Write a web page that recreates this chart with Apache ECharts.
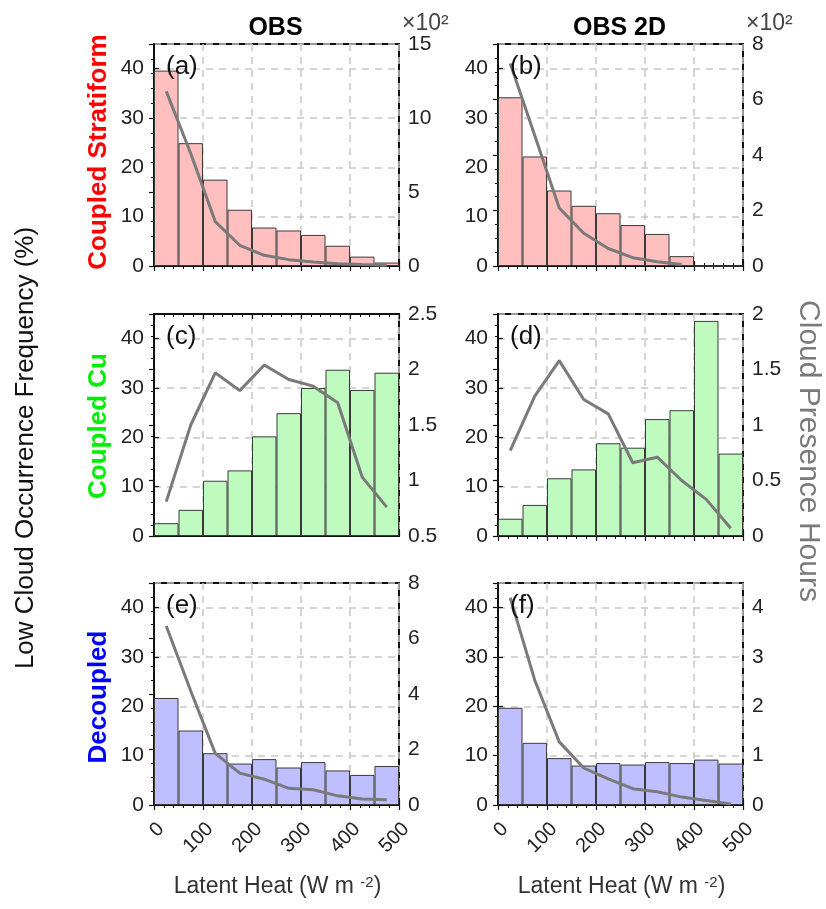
<!DOCTYPE html>
<html>
<head>
<meta charset="utf-8">
<script src="https://cdn.jsdelivr.net/npm/echarts@6/dist/echarts.min.js"></script>
<style>
  html, body { margin: 0; padding: 0; background: #fff; }
  #chart { width: 826px; height: 909px; }
</style>
</head>
<body>
<div id="chart"></div>
<script>
// latent heat bin centres (W m-2)
var binCenters = [25, 75, 125, 175, 225, 275, 325, 375, 425, 475]

// low cloud occurrence frequency (%)
var freqA = [39.6, 24.9, 17.5, 11.4, 7.8, 7.2, 6.3, 4.1, 1.9, 0.7]
var freqB = [34.2, 22.2, 15.3, 12.2, 10.7, 8.3, 6.5, 2.0, 0, 0]
var freqC = [2.6, 5.3, 11.2, 13.3, 20.2, 24.9, 30.0, 33.7, 29.6, 33.1]
var freqD = [3.5, 6.3, 11.7, 13.5, 18.8, 17.9, 23.7, 25.5, 43.6, 16.7]
var freqE = [21.7, 15.1, 10.5, 8.4, 9.3, 7.6, 8.7, 7.0, 6.1, 7.9]
var freqF = [19.7, 12.6, 9.5, 8.0, 8.5, 8.2, 8.7, 8.5, 9.2, 8.4]

// cloud presence hours (a, b in units of 10^2)
var hoursA = [11.8, 7.6, 3.0, 1.4, 0.72, 0.43, 0.27, 0.16, 0.1, 0.05]
var hoursB = [7.3, 4.7, 2.09, 1.18, 0.63, 0.3, 0.15, 0.05, null, null]
var hoursC = [0.81, 1.5, 1.97, 1.81, 2.04, 1.91, 1.85, 1.70, 1.03, 0.76]
var hoursD = [0.77, 1.26, 1.58, 1.23, 1.1, 0.66, 0.71, 0.5, 0.33, 0.07]
var hoursE = [6.45, 4.11, 1.86, 1.15, 0.93, 0.6, 0.55, 0.33, 0.22, 0.19]
var hoursF = [4.2, 2.53, 1.28, 0.75, 0.53, 0.33, 0.27, 0.16, 0.09, 0.02]

// right axis ranges [min, max, interval, minor split]
var rightA = [0, 15, 5, 5]
var rightB = [0, 8, 2, 4]
var rightC = [0.5, 2.5, 0.5, 5]
var rightD = [0, 2, 0.5, 5]
var rightE = [0, 8, 2, 4]
var rightF = [0, 4.5, 1, 5]

var panelLabels = ['(a)', '(b)', '(c)', '(d)', '(e)', '(f)']
var colTitles = ['OBS', 'OBS 2D']
var rowTitles = ['Coupled Stratiform', 'Coupled Cu', 'Decoupled']
var rowColors = ['#ff0000', '#00ee00', '#0000ff']
var barColors = ['#ffbfbf', '#bffabf', '#bfbfff']

var FONT = 'Liberation Sans, Arial, sans-serif'

var panels = [
  { freq: freqA, hours: hoursA, right: rightA },
  { freq: freqB, hours: hoursB, right: rightB },
  { freq: freqC, hours: hoursC, right: rightC },
  { freq: freqD, hours: hoursD, right: rightD },
  { freq: freqE, hours: hoursE, right: rightE },
  { freq: freqF, hours: hoursF, right: rightF }
]

var colLeft = [154, 498]
var rowTop = [44, 314, 583]
var rowCenter = [152, 426, 697]
var plotW = 245
var plotH = 222

var grids = [], xAxes = [], yAxes = [], series = [], graphics = []

function pair(arr) {
  return arr.map(function(v, i) { return [binCenters[i], v] })
}

var frame = { show: true, lineStyle: { color: '#111', width: 2 } }
var ticks = { inside: true, length: 5, lineStyle: { color: '#111', width: 1.2 } }
var dashes = { show: true, lineStyle: { color: '#c8c8c8', type: [7, 6], width: 1.5 } }

panels.forEach(function(p, k) {
  var row = Math.floor(k / 2), col = k % 2
  grids.push({
    left: colLeft[col], top: rowTop[row], width: plotW, height: plotH,
    show: true, borderColor: '#111', borderWidth: 2, backgroundColor: '#fff'
  })
  // bottom x axis
  xAxes.push({
    type: 'value', gridIndex: k, position: 'bottom', min: 0, max: 500, interval: 100,
    axisLine: frame, axisTick: ticks,
    minorTick: { show: true, splitNumber: 5, length: 3, lineStyle: { color: '#111' } },
    splitLine: dashes,
    axisLabel: {
      show: row === 2, rotate: 45, align: 'right', verticalAlign: 'top',
      fontSize: 20, color: '#222', fontFamily: FONT, margin: 14
    }
  })
  // top x axis, ticks only
  xAxes.push({
    type: 'value', gridIndex: k, position: 'top', min: 0, max: 500, interval: 100,
    axisLine: frame, axisTick: ticks,
    minorTick: { show: true, splitNumber: 5, length: 3, lineStyle: { color: '#111' } },
    splitLine: { show: false },
    axisLabel: { show: false }
  })
  // left: frequency
  yAxes.push({
    type: 'value', gridIndex: k, position: 'left', min: 0, max: 45, interval: 10,
    axisLine: frame, axisTick: ticks,
    splitLine: dashes,
    axisLabel: { showMaxLabel: false, fontSize: 21, color: '#222', fontFamily: FONT, margin: 10 }
  })
  // right: hours
  yAxes.push({
    type: 'value', gridIndex: k, position: 'right',
    min: p.right[0], max: p.right[1], interval: p.right[2],
    axisLine: frame, axisTick: ticks,
    minorTick: { show: true, splitNumber: p.right[3], length: 3, lineStyle: { color: '#111' } },
    splitLine: { show: false },
    axisLabel: {
      showMaxLabel: p.right[1] % p.right[2] === 0, fontSize: 21, color: '#222',
      fontFamily: FONT, margin: 9
    }
  })
  series.push({
    type: 'bar', xAxisIndex: 2 * k, yAxisIndex: 2 * k,
    data: pair(p.freq), barWidth: plotW / 10,
    itemStyle: { color: barColors[row], borderColor: '#3a3a3a', borderWidth: 1 },
    z: 2
  })
  series.push({
    type: 'line', xAxisIndex: 2 * k, yAxisIndex: 2 * k + 1,
    data: pair(p.hours), symbol: 'none',
    lineStyle: { color: '#7a7a7a', width: 3 },
    z: 4
  })
  graphics.push({
    type: 'text', x: colLeft[col] + 12, y: rowTop[row] + 23,
    style: { text: panelLabels[k], font: '26px ' + FONT, fill: '#111', verticalAlign: 'middle' },
    z: 100
  })
})

colTitles.forEach(function(t, c) {
  graphics.push({
    type: 'text', x: colLeft[c] + plotW / 2 - 1, y: 28,
    style: { text: t, font: 'bold 25px ' + FONT, fill: '#000', align: 'center', verticalAlign: 'middle' }
  })
  graphics.push({
    type: 'text', x: colLeft[c] + plotW + 3, y: 24,
    style: { text: '\u00d710\u00b2', font: '23px ' + FONT, fill: '#444', verticalAlign: 'middle' }
  })
  graphics.push({
    type: 'text', x: colLeft[c] + plotW / 2 + 1, y: 887,
    style: {
      text: 'Latent Heat (W m {s|-2})', font: '23px ' + FONT, fill: '#333',
      align: 'center', verticalAlign: 'middle',
      rich: { s: { fontSize: 15, fontFamily: FONT, fill: '#333', verticalAlign: 'top', lineHeight: 15, padding: [0, 0, 12, 0] } }
    }
  })
})

rowTitles.forEach(function(t, r) {
  graphics.push({
    type: 'text', x: 99, y: rowCenter[r], rotation: Math.PI / 2,
    style: { text: t, font: 'bold 26px ' + FONT, fill: rowColors[r], align: 'center', verticalAlign: 'middle' }
  })
})

graphics.push({
  type: 'text', x: 26, y: 448, rotation: Math.PI / 2,
  style: { text: 'Low Cloud Occurrence Frequency (%)', font: '26px ' + FONT, fill: '#111', align: 'center', verticalAlign: 'middle' }
})
graphics.push({
  type: 'text', x: 808, y: 451, rotation: -Math.PI / 2,
  style: { text: 'Cloud Presence Hours', font: '30px ' + FONT, fill: '#7a7a7a', align: 'center', verticalAlign: 'middle' }
})

var chart = echarts.init(document.getElementById('chart'), null, { renderer: 'canvas' })
chart.setOption({
  animation: false,
  backgroundColor: '#fff',
  grid: grids,
  xAxis: xAxes,
  yAxis: yAxes,
  series: series,
  graphic: graphics
})
</script>
</body>
</html>
